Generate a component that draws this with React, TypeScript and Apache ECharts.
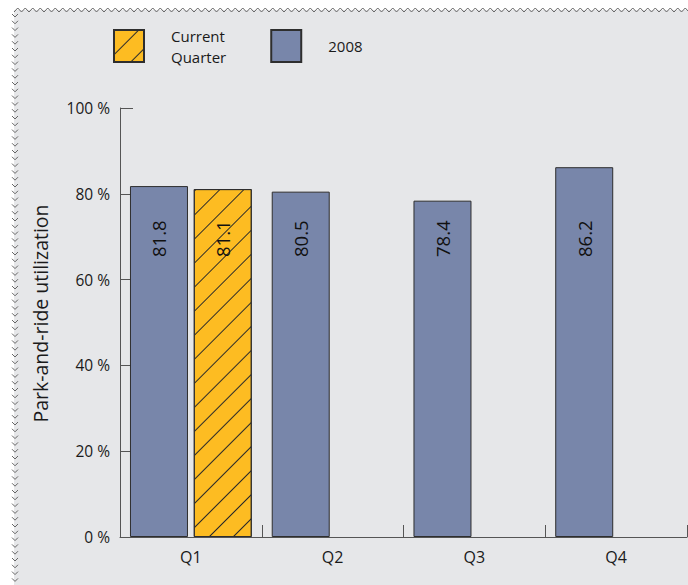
import { useEffect, useRef } from 'react';
import * as echarts from 'echarts';

const categories = ['Q1', 'Q2', 'Q3', 'Q4'];
const values2008 = [81.8, 80.5, 78.4, 86.2];
const valuesCurrent: (number | null)[] = [81.1, null, null, null];
const yAxisTitle = 'Park-and-ride utilization';
const legendNames = ['Current Quarter', '2008'];

const FONT = '"Open Sans", "Noto Sans", sans-serif';

function zigzagGraphics(): any[] {
  const els: any[] = [];
  const top: number[][] = [];
  for (let x = 14, i = 0; x <= 690; x += 3.75, i++) {
    top.push([x, i % 2 === 0 ? 12 : 8]);
  }
  els.push({
    type: 'polyline',
    shape: { points: top },
    style: { stroke: '#666', lineWidth: 1, fill: null },
    z: 10,
  });
  for (let y = 14; y < 590; y += 6.8) {
    els.push({
      type: 'polyline',
      shape: { points: [[12, y], [15, y + 3], [18, y]] },
      style: { stroke: '#666', lineWidth: 1, fill: null },
      z: 10,
    });
  }
  return els;
}

export default function App() {
  const ref = useRef<HTMLDivElement>(null);
  useEffect(() => {
    if (!ref.current) return;
    const chart = echarts.init(ref.current, undefined, { renderer: 'svg' });
    const hatch = {
      symbol: 'rect',
      symbolSize: 1,
      color: '#2a2a2a',
      dashArrayX: [1, 0],
      dashArrayY: [1, 16],
      rotation: -Math.PI / 4,
    };
    const labelCfg = {
      show: true,
      position: 'insideBottom',
      distance: 280,
      rotate: 90,
      align: 'left',
      verticalAlign: 'middle',
      fontSize: 18.5,
      fontWeight: 500,
      fontFamily: FONT,
      color: '#111111',
      formatter: (p: any) => (p.value == null ? '' : String(p.value)),
    };
    chart.setOption({
      animation: false,
      backgroundColor: '#ffffff',
      textStyle: { fontFamily: FONT },
      graphic: [
        {
          type: 'rect',
          shape: { x: 14, y: 10, width: 700, height: 600 },
          style: { fill: '#e6e7e9' },
          z: -10,
          silent: true,
        },
        ...zigzagGraphics(),
      ],
      legend: {
        left: 113,
        top: 25,
        padding: 0,
        itemWidth: 30,
        itemHeight: 32,
        itemGap: 44,
        icon: 'rect',
        data: legendNames,
        formatter: (name: string) => name.replace(' ', '\n'),
        textStyle: {
          fontSize: 15,
          lineHeight: 21,
          color: '#1a1a1a',
          fontFamily: FONT,
          padding: [0, 0, 0, 22],
        },
      },
      grid: { left: 120, right: 1, top: 108, bottom: 48 },
      xAxis: {
        type: 'category',
        data: categories,
        axisLine: { show: true, lineStyle: { color: '#555', width: 1 } },
        axisTick: { show: true, inside: true, length: 12, alignWithLabel: false, lineStyle: { color: '#555' } },
        axisLabel: { fontSize: 16, color: '#1a1a1a', margin: 12, fontFamily: FONT },
      },
      yAxis: {
        type: 'value',
        min: 0,
        max: 100,
        interval: 20,
        name: yAxisTitle,
        nameLocation: 'middle',
        nameGap: 70,
        nameTextStyle: { fontSize: 19.5, color: '#1a1a1a', fontFamily: FONT, padding: [0, 0, 0, 18] },
        axisLine: { show: true, lineStyle: { color: '#555', width: 1 } },
        axisTick: { show: true, inside: true, length: 13, lineStyle: { color: '#555' } },
        splitLine: { show: false },
        axisLabel: { fontSize: 15.5, color: '#1a1a1a', margin: 10, formatter: '{value} %', fontFamily: FONT },
      },
      series: [
        {
          name: '2008',
          type: 'bar',
          data: values2008,
          barWidth: 58,
          barGap: '10%',
          itemStyle: { color: '#7886aa', borderColor: '#2e2e2e', borderWidth: 1 },
          label: labelCfg,
        },
        {
          name: 'Current Quarter',
          type: 'bar',
          data: valuesCurrent,
          barWidth: 58,
          barGap: '10%',
          itemStyle: { color: '#fdbc22', borderColor: '#2e2e2e', borderWidth: 1, decal: hatch },
          label: labelCfg,
        },
      ],
    });
    return () => chart.dispose();
  }, []);
  return (
    <div
      ref={ref}
      style={{ position: 'absolute', left: 0, top: 0, width: 688, height: 585 }}
    />
  );
}
